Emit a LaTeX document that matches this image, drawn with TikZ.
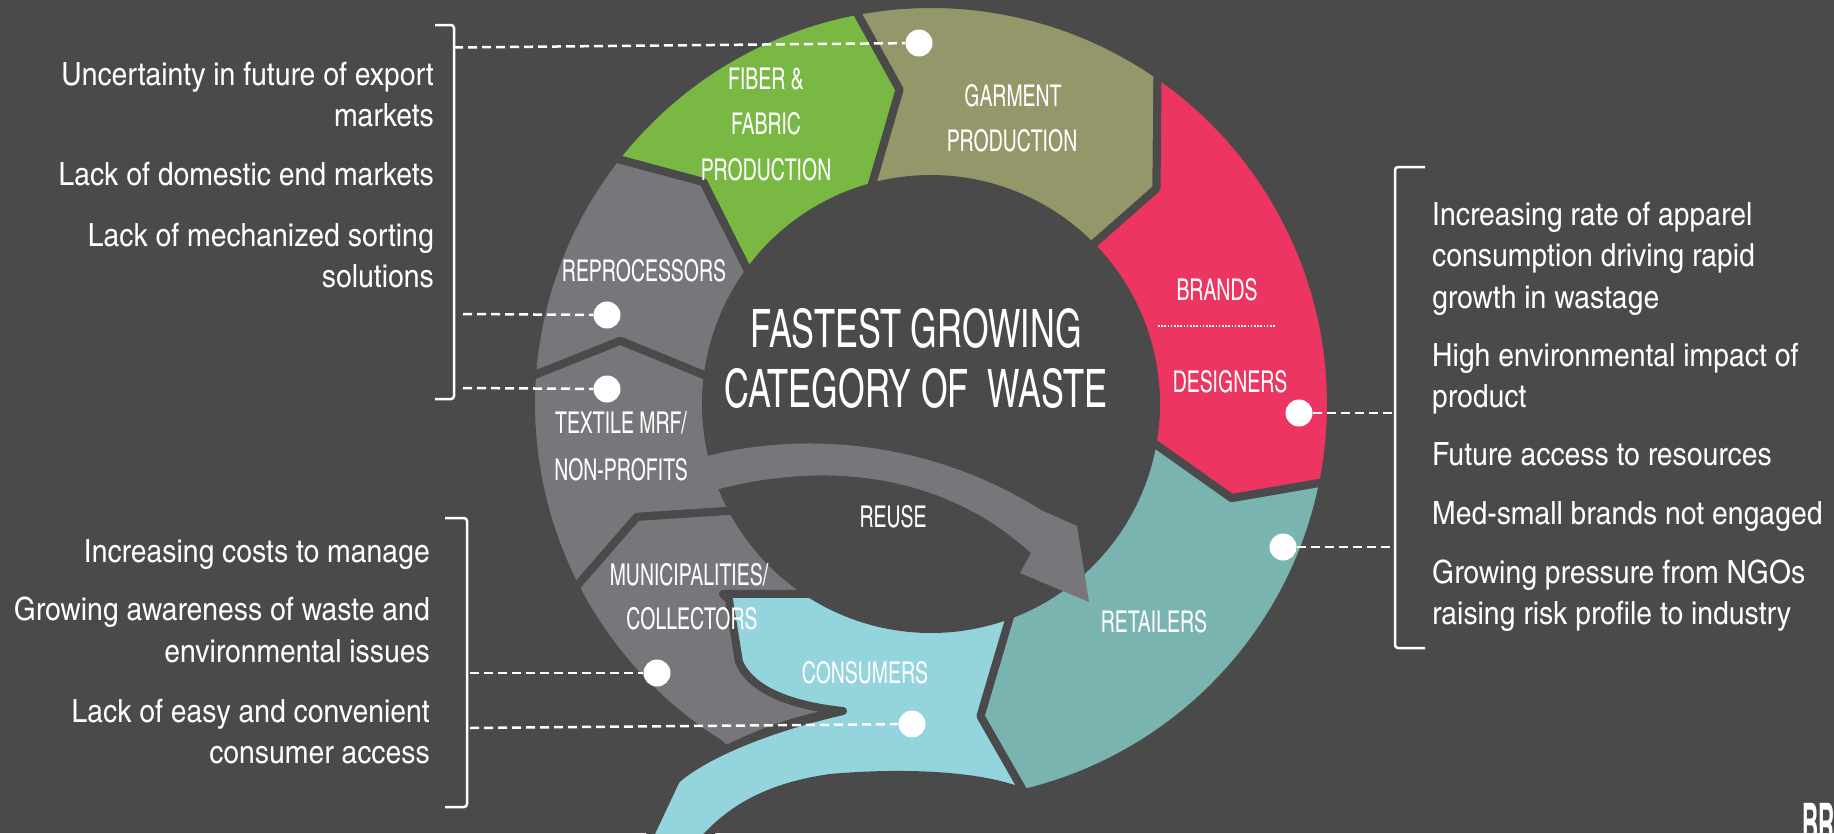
\documentclass[tikz,border=0pt]{standalone}
\usepackage{fontspec}
\newfontfamily\bodyfam[Extension=.otf, UprightFont=*-regular, BoldFont=*-bold, FakeStretch=1.08]{texgyreheroscn}
\newfontfamily\capsfam[Extension=.otf, UprightFont=*-regular, BoldFont=*-bold, FakeStretch=0.79]{texgyreheroscn}
\definecolor{bg}{HTML}{4A4A4A}
\definecolor{fibergreen}{HTML}{79B943}
\definecolor{garmentolive}{HTML}{949769}
\definecolor{brandred}{HTML}{EC3560}
\definecolor{retailteal}{HTML}{7AB4B1}
\definecolor{consumercyan}{HTML}{94D4DD}
\definecolor{recyclegray}{HTML}{77767B}
\tikzset{
  seg/.style={draw=bg, line width=8pt, line join=round},
  body/.style={font=\bodyfam\fontsize{32}{38}\selectfont, text=white, inner sep=0pt},
  lbl/.style={font=\capsfam\fontsize{30}{36}\selectfont, text=white, inner sep=0pt, anchor=base},
  ttl/.style={font=\capsfam\fontsize{53}{60}\selectfont, text=white, inner sep=0pt, anchor=base},
  hub/.style={circle, fill=white, minimum size=27pt, inner sep=0pt},
  leader/.style={white, line width=2.5pt, dash pattern=on 9pt off 5pt},
  bracket/.style={white, line width=2.5pt, rounded corners=3pt},
}
\begin{document}
\begin{tikzpicture}[x=1pt, y=-1pt]
\fill[bg] (0,0) rectangle (1834,833);
\useasboundingbox (0,0) rectangle (1834,833);

% ---------------- the cycle ring (centre 931,404) ----------------
\begin{scope}[shift={(931,404)}]
  % reprocessors
  \path[seg, fill=recyclegray] (184:400) arc[start angle=184, end angle=217.9, radius=400]
    -- (224.3:318) -- (215.9:225) arc[start angle=215.9, end angle=187, radius=225]
    -- (191.5:317) -- cycle;
  % fiber & fabric production
  \path[seg, fill=fibergreen] (217.9:400) arc[start angle=217.9, end angle=259.2, radius=400]
    -- (264.3:316) -- (254.6:225) arc[start angle=254.6, end angle=215.9, radius=225]
    -- (224.3:318) -- cycle;
  % garment production
  \path[seg, fill=garmentolive] (259.2:400) arc[start angle=259.2, end angle=304.5, radius=400]
    -- (316.3:312) -- (315.4:225) arc[start angle=315.4, end angle=254.6, radius=225]
    -- (264.3:316) -- cycle;
  % brands / designers
  \path[seg, fill=brandred] (304.5:400) arc[start angle=304.5, end angle=371.3, radius=400]
    -- (377.4:315) -- (369.8:225) arc[start angle=369.8, end angle=315.4, radius=225]
    -- (316.3:312) -- cycle;
  % retailers
  \path[seg, fill=retailteal] (11.3:400) arc[start angle=11.3, end angle=76.5, radius=400]
    -- (81:316) -- (69.3:225) arc[start angle=69.3, end angle=9.8, radius=225]
    -- (17.4:315) -- cycle;
  % textile MRF / non-profits
  \path[seg, fill=recyclegray] (152.7:400) arc[start angle=152.7, end angle=184, radius=400]
    -- (191.5:317) -- (187:225) arc[start angle=187, end angle=151.7, radius=225]
    -- (159:315) -- cycle;
  % municipalities / collectors
  \path[seg, fill=recyclegray] (-205,346) -- (122:400) arc[start angle=122, end angle=152.7, radius=400]
    -- (159:315) -- (151.7:225) arc[start angle=151.7, end angle=122.5, radius=225]
    -- (-81,236) -- (-88,307) .. controls (-131,314) and (-171,328) .. (-205,346) -- cycle;
  % consumers, with the tail leaving the loop
  \path[seg, fill=consumercyan] (-208,190) -- (122.5:225) arc[start angle=122.5, end angle=69.3, radius=225]
    -- (81:316) -- (76.5:400)
    .. controls (54,372) and (-21,367) .. (-101,374)
    .. controls (-156,382) and (-201,401) .. (-236,446)
    -- (-288,446) -- (-255,376)
    .. controls (-231,354) and (-171,326) .. (-88,307)
    .. controls (-136,302) and (-179,288) .. (-192,258)
    -- (-202,196) -- cycle;
  % reuse arrow
  \fill[recyclegray] (-231,54) .. controls (-131,26) and (-1,36) .. (110,106)
    -- (146,122) -- (158,198) -- (89,169) -- (100,149)
    .. controls (9,66) and (-111,58) .. (-216,86) -- cycle;
\end{scope}

% ---------------- labels on the ring ----------------
\node[lbl] (fib1) at (766,89) {FIBER \&};
\node[lbl] (fib2) at (766,134.5) {FABRIC};
\node[lbl] (fib3) at (766,180) {PRODUCTION};
\node[lbl] (gar1) at (1013,106) {GARMENT};
\node[lbl] (gar2) at (1012,151.7) {PRODUCTION};
\node[lbl] (rep) at (644,281) {REPROCESSORS};
\node[lbl] (mrf1) at (621,433) {TEXTILE MRF/};
\node[lbl] (mrf2) at (621,480) {NON-PROFITS};
\node[lbl] (mun1) at (689,585) {MUNICIPALITIES/};
\node[lbl] (mun2) at (692,629) {COLLECTORS};
\node[lbl] (reuse) at (893,527) {REUSE};
\node[lbl] (ret) at (1154,632) {RETAILERS};
\node[lbl] (con) at (865,683) {CONSUMERS};
\node[lbl] (bra) at (1217,300) {BRANDS};
\node[lbl] (des) at (1230,392) {DESIGNERS};
\coordinate (sepl) at (1158,326);
\coordinate (sepr) at (1275,326);
\draw[white, line width=1.6pt, dash pattern=on 1.6pt off 1.6pt] (sepl) -- (sepr);

\node[ttl] (title1) at (916,347) {FASTEST GROWING};
\node[ttl] (title2) at (916,407) {CATEGORY OF~ WASTE};

% ---------------- left upper issues ----------------
\node[body, anchor=base east] (lu1) at (434,85) {Uncertainty in future of export};
\node[body, anchor=base east] (lu2) at (434,126.7) {markets};
\node[body, anchor=base east] (lu3) at (434,185.7) {Lack of domestic end markets};
\node[body, anchor=base east] (lu4) at (434,246.7) {Lack of mechanized sorting};
\node[body, anchor=base east] (lu5) at (434,287.3) {solutions};
\draw[bracket] (435,25) -- (454,25) -- (454,399) -- (435,399);

% ---------------- left lower issues ----------------
\node[body, anchor=base east] (ll1) at (430,562.7) {Increasing costs to manage};
\node[body, anchor=base east] (ll2) at (430,620.7) {Growing awareness of waste and};
\node[body, anchor=base east] (ll3) at (430,662.3) {environmental issues};
\node[body, anchor=base east] (ll4) at (430,722.3) {Lack of easy and convenient};
\node[body, anchor=base east] (ll5) at (430,763.3) {consumer access};
\draw[bracket] (445,518) -- (467,518) -- (467,807) -- (445,807);

% ---------------- right issues ----------------
\node[body, anchor=base west] (r1) at (1432,225) {Increasing rate of apparel};
\node[body, anchor=base west] (r2) at (1432,266.7) {consumption driving rapid};
\node[body, anchor=base west] (r3) at (1432,308.3) {growth in wastage};
\node[body, anchor=base west] (r4) at (1432,366) {High environmental impact of};
\node[body, anchor=base west] (r5) at (1432,407.7) {product};
\node[body, anchor=base west] (r6) at (1432,465.5) {Future access to resources};
\node[body, anchor=base west] (r7) at (1432,524.5) {Med-small brands not engaged};
\node[body, anchor=base west] (r8) at (1432,583) {Growing pressure from NGOs};
\node[body, anchor=base west] (r9) at (1432,624.7) {raising risk profile to industry};
\draw[bracket] (1425,167) -- (1395,167) -- (1395,648) -- (1425,648);

% ---------------- markers and leader lines ----------------
\node[hub] (dgar) at (919,43) {};
\node[hub] (drep) at (607,315) {};
\node[hub] (dmrf) at (607,389) {};
\node[hub] (dmun) at (657,673) {};
\node[hub] (dcon) at (912,724) {};
\node[hub] (ddes) at (1299,413) {};
\node[hub] (dret) at (1283,547) {};

\coordinate (bgar) at (454,47.5);
\coordinate (brep) at (463,314);
\coordinate (bmrf) at (463,388);
\coordinate (bmun) at (470,673);
\coordinate (bcon) at (470,728);
\coordinate (bdes) at (1395,413);
\coordinate (bret) at (1395,547);

\draw[leader] (bgar) -- (dgar);
\draw[leader] (brep) -- (drep);
\draw[leader] (bmrf) -- (dmrf);
\draw[leader] (bmun) -- (dmun);
\draw[leader] (bcon) -- (dcon);
\draw[leader] (ddes) -- (bdes);
\draw[leader] (dret) -- (bret);

% corner mark
\node[anchor=north west, inner sep=0pt, text=white, xscale=0.62, transform shape,
      font=\capsfam\bfseries\fontsize{56}{60}\selectfont] (mark) at (1802,803) {BR};
\end{tikzpicture}
\end{document}
